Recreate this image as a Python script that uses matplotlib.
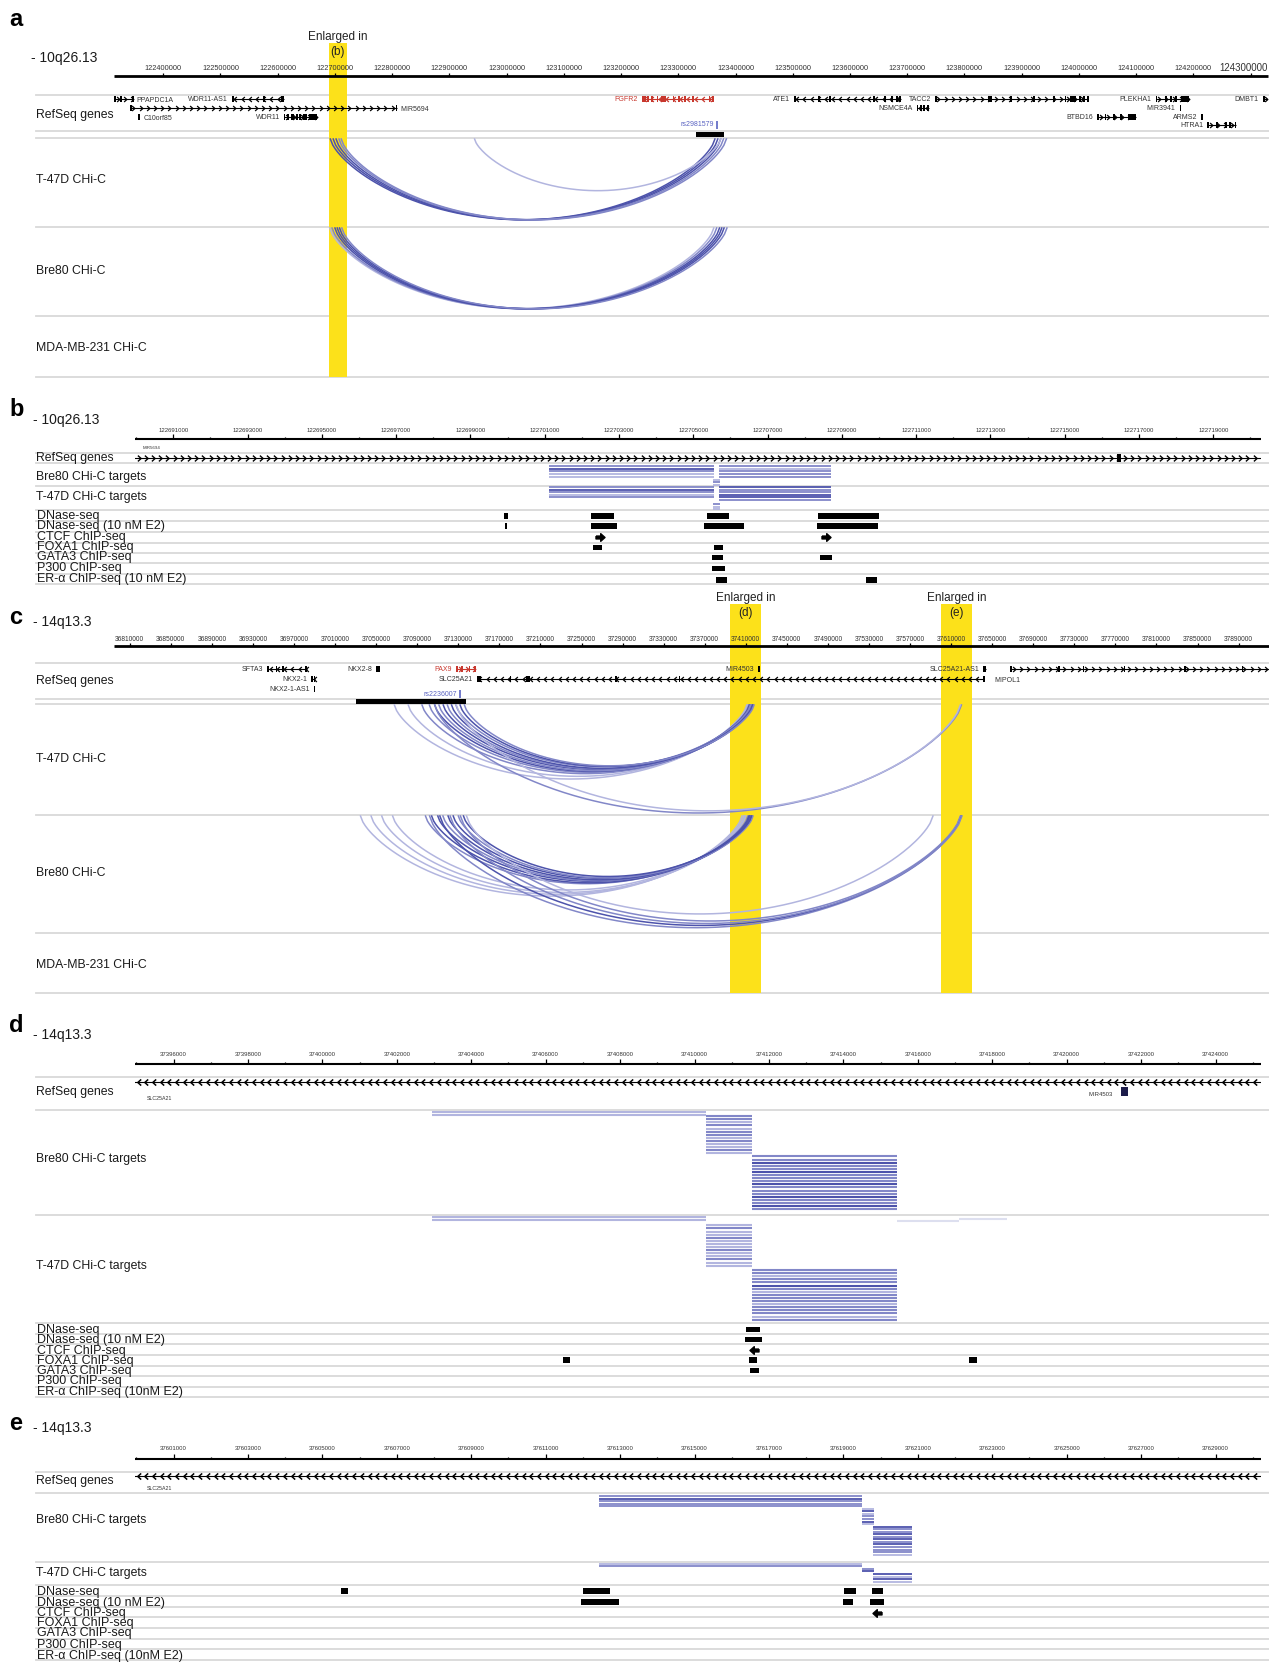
import numpy as np
import matplotlib
matplotlib.use("Agg")
import matplotlib.pyplot as plt
from matplotlib.lines import Line2D
from matplotlib.patches import Rectangle

plt.rcParams['font.family'] = ['Liberation Sans', 'DejaVu Sans']
NARROW = ['Liberation Sans Narrow', 'Liberation Sans', 'DejaVu Sans']

W, H = 1269, 1662
fig = plt.figure(figsize=(W / 100, H / 100), dpi=100)

YELLOW = '#fce11a'
SEP = '#d9d9d9'
BLUES = {0: '#dddfef', 1: '#b2b5df', 2: '#8287c8', 3: '#4d53ab'}
RED = '#c8372d'
SNPBLUE = '#5a63c2'

# ---------------- data ----------------
# panel a : 10q26.13 overview
A_VIEW = (122313900, 124330500)
A_TICKS = list(range(122400000, 124300001, 100000))
# name, start, end, strand, row, label side, exons, colour
A_GENES = [
    ('PPAPDC1A', 122314500, 122346500, '+', 0, 'R',
     [(122314500, 122316500), (122325000, 122326500), (122345000, 122346500)], 'k'),
    ('WDR11-AS1', 122519700, 122610300, '-', 0, 'L',
     [(122519700, 122522500), (122575000, 122576500), (122606000, 122610300)], 'k'),
    ('MIR5694', 122341500, 122807700, '+', 1, 'R',
     [(122341500, 122343000), (122806000, 122807700)], 'k'),
    ('C10orf85', 122356000, 122358000, '', 2, 'R', [(122356000, 122358000)], 'k'),
    ('WDR11', 122610300, 122669400, '+', 2, 'L',
     [(122610300, 122613000), (122617000, 122620000), (122624000, 122628000),
      (122632000, 122634000), (122638000, 122641000), (122645000, 122652000),
      (122655000, 122669400)], 'k'),
    ('FGFR2', 123236000, 123360500, '-', 0, 'L',
     [(123236000, 123243000), (123246000, 123249000), (123252000, 123255000),
      (123262000, 123264500), (123270000, 123278000), (123290000, 123292000),
      (123300000, 123302000), (123310000, 123311500), (123324000, 123325500),
      (123353000, 123355000), (123358500, 123360500)], RED),
    ('ATE1', 123501400, 123690000, '-', 0, 'L',
     [(123501400, 123505000), (123545000, 123546500), (123563000, 123564500),
      (123640000, 123643000), (123660000, 123662000), (123672000, 123674000),
      (123680000, 123682000), (123685000, 123690000)], 'k'),
    ('NSMCE4A', 123716300, 123737700, '-', 1, 'L',
     [(123716300, 123719000), (123722000, 123726000), (123728000, 123731000),
      (123734000, 123737700)], 'k'),
    ('TACC2', 123748400, 124016700, '+', 0, 'L',
     [(123748400, 123751000), (123841000, 123848000), (123880000, 123881500),
      (123920000, 123921500), (123955000, 123956500), (123975000, 123977000),
      (123985000, 123995000), (124000000, 124003000), (124008000, 124010000),
      (124014000, 124016700)], 'k'),
    ('BTBD16', 124031600, 124099200, '+', 2, 'L',
     [(124031600, 124035000), (124045000, 124046500), (124060000, 124061500),
      (124072000, 124073500), (124085000, 124099200)], 'k'),
    ('PLEKHA1', 124134100, 124191700, '+', 0, 'L',
     [(124134100, 124136000), (124150000, 124151500), (124160000, 124162000),
      (124168000, 124172000), (124178000, 124191700)], 'k'),
    ('MIR3941', 124176000, 124177500, '', 1, 'L', [(124176000, 124177500)], 'k'),
    ('ARMS2', 124214000, 124216700, '', 2, 'L', [(124214000, 124216700)], 'k'),
    ('HTRA1', 124223800, 124275000, '+', 3, 'L',
     [(124223800, 124226000), (124240000, 124242000), (124255000, 124258000),
      (124262000, 124264000), (124272000, 124275000)], 'k'),
    ('DMBT1', 124321300, 124330500, '+', 0, 'L', [(124321300, 124323000)], 'k'),
]
A_SNP = ('rs2981579', 123367600)
A_SNP_BLOCK = (123330600, 123379700)
# start, end, shade
A_T47D_ARCS = [
    (122692000, 123364000, 3), (122697000, 123369000, 3), (122702000, 123374000, 3),
    (122707000, 123379000, 2), (122711000, 123384000, 2), (122944000, 123374000, 1),
]
A_BRE80_ARCS = [
    (122691000, 123362000, 1), (122695000, 123367000, 2), (122700000, 123372000, 3),
    (122704000, 123376000, 3), (122708000, 123380000, 3), (122712000, 123385000, 2),
]

# panel b : enlarged FGFR2 enhancer region
B_VIEW = (122689970, 122720283)
B_MAJOR = list(range(122691000, 122719001, 2000))
B_MINOR = list(range(122690000, 122720001, 2000))
B_GENE = ('MIR5694', 122689970, 122720283, '+', [(122716400, 122716520)])
# start, end, first row, shades per row
B_BRE80 = [
    (122701110, 122705550, 0, [2, 3, 2, 1, 1]),
    (122705692, 122708715, 0, [2, 1, 2, 2, 2]),
    (122705540, 122705725, 5, [1, 2, 1]),
]
B_T47D = [
    (122701110, 122705550, 0, [2, 3, 2, 1, 2]),
    (122705692, 122708715, 0, [3, 2, 2, 3, 3, 2]),
    (122705540, 122705725, 6.5, [2, 1, 1]),
]
B_DNASE = [(122699912, 122700022), (122702242, 122702868), (122705374, 122705956),
           (122708363, 122710000)]
B_DNASE_E2 = [(122699923, 122699989), (122702242, 122702956), (122705297, 122706374),
              (122708341, 122709978)]
B_CTCF = [(122702484, '+'), (122708572, '+')]
B_FOXA1 = [(122702297, 122702539), (122705560, 122705802)]
B_GATA3 = [(122705505, 122705802), (122708418, 122708737)]
B_P300 = [(122705505, 122705857)]
B_ER = [(122705615, 122705912), (122709660, 122709956)]

# panel c : 14q13.3 overview
C_VIEW = (36794600, 37919600)
C_TICKS = list(range(36810000, 37890001, 40000))
C_GENES = [
    ('SFTA3', 36943900, 36982500, '-', 0, 'L',
     [(36943900, 36946000), (36952000, 36953000), (36958000, 36959000),
      (36981000, 36982500)], 'k'),
    ('NKX2-1', 36986500, 36990400, '-', 1, 'L', [(36986500, 36987800), (36989000, 36990400)], 'k'),
    ('NKX2-1-AS1', 36989000, 36990600, '', 2, 'L', [(36989000, 36990600)], 'k'),
    ('NKX2-8', 37049800, 37052800, '-', 0, 'L', [(37049800, 37050600), (37051800, 37052800)], 'k'),
    ('PAX9', 37128000, 37146700, '+', 0, 'L',
     [(37128000, 37129500), (37133000, 37134000), (37140000, 37141200),
      (37145000, 37146700)], RED),
    ('SLC25A21', 37147900, 37642300, '-', 1, 'L',
     [(37147900, 37152000), (37180000, 37181000), (37196000, 37199900),
      (37283000, 37284500), (37344500, 37346000), (37641300, 37642300)], 'k'),
    ('MIR4503', 37422000, 37423600, '', 0, 'L', [(37422000, 37423600)], 'k'),
    ('SLC25A21-AS1', 37641200, 37644200, '', 0, 'L', [(37641200, 37644200)], 'k'),
    ('', 37667700, 37919600, '+', 0, 'L',
     [(37667700, 37669000), (37714000, 37715000), (37738000, 37739000),
      (37778000, 37779000), (37837000, 37838500), (37893000, 37894000)], 'k'),
]
C_EXTRA_LABEL = ('MIPOL1', 37652000, 1)
C_SNP = ('rs2236007', 37131600)
C_SNP_BLOCK = (37030200, 37137600)
C_T47D_ARCS = [
    (37067700, 37411000, 1), (37081200, 37412000, 1), (37094600, 37413000, 2),
    (37101800, 37414000, 2), (37107000, 37415000, 3), (37111100, 37416000, 2),
    (37115300, 37413500, 3), (37119300, 37415500, 2), (37123400, 37417000, 3),
    (37127600, 37414500, 2), (37131700, 37416500, 3), (37135900, 37418000, 2),
    (37107000, 37620000, 2), (37128000, 37619000, 1),
]
C_BRE80_ARCS = [
    (37034700, 37406300, 1), (37045000, 37408000, 1), (37055400, 37410000, 1),
    (37066000, 37409000, 1), (37098000, 37412000, 2), (37104000, 37414000, 3),
    (37110000, 37413000, 3), (37115000, 37415000, 2), (37120000, 37416000, 3),
    (37125000, 37414000, 3), (37130000, 37417000, 2), (37135000, 37415500, 3),
    (37102000, 37620000, 2), (37112000, 37619500, 3), (37122000, 37620500, 2),
    (37132000, 37619000, 2), (37138000, 37592300, 1),
]

# panel d : SLC25A21 intronic region (d)
D_VIEW = (37394957, 37425210)
D_MAJOR = list(range(37396000, 37424001, 2000))
D_MINOR = list(range(37395000, 37425001, 2000))
D_MIR = ('MIR4503', 37421450, 37421650)
D_BRE80 = [
    (37402940, 37410295, 0, [1, 1]),
    (37410295, 37411533, 1.5, [2, 2, 1, 2, 1, 2, 2, 1, 2, 1, 1, 2, 1]),
    (37411533, 37415430, 14.5, [2, 2, 3, 2, 2, 3, 2, 2, 2, 3, 2, 2, 2, 3, 2, 2, 3, 2]),
]
D_T47D = [
    (37402940, 37410295, 0, [1, 1]),
    (37415430, 37417100, 1.3, [0]),
    (37417100, 37418400, 0.6, [0]),
    (37410295, 37411533, 2.7, [1, 2, 1, 1, 2, 1, 1, 1, 2, 1, 1, 2, 1, 1]),
    (37411533, 37415430, 17.1, [2, 2, 1, 2, 2, 3, 2, 1, 2, 2, 2, 1, 2, 2, 2, 1, 2]),
]
D_DNASE = [(37411380, 37411760)]
D_DNASE_E2 = [(37411355, 37411810)]
D_CTCF = [(37411600, '-')]
D_FOXA1 = [(37406466, 37406654), (37411450, 37411680), (37417370, 37417600)]
D_GATA3 = [(37411480, 37411730)]

# panel e : SLC25A21 intronic region (e)
E_VIEW = (37599957, 37630210)
E_MAJOR = list(range(37601000, 37629001, 2000))
E_MINOR = list(range(37600000, 37630001, 2000))
E_BRE80 = [
    (37612433, 37619495, 0, [2, 3, 2, 2, 2]),
    (37619495, 37619820, 5, [1, 3, 1, 2, 2, 3, 1]),
    (37619803, 37620840, 12, [3, 2, 2, 3, 2, 3, 2, 3, 2, 2, 2, 1]),
]
E_T47D = [
    (37612433, 37619495, 0, [1, 2]),
    (37619495, 37619820, 2, [2, 3]),
    (37619803, 37620840, 4, [3, 1, 3, 1]),
]
E_DNASE = [(37605500, 37605690), (37612000, 37612730), (37619020, 37619350),
           (37619780, 37620060)]
E_DNASE_E2 = [(37611950, 37612970), (37619000, 37619260), (37619725, 37620100)]
E_CTCF = [(37619900, '-')]

SMALL_TRACKS_B = ['DNase-seq', 'DNase-seq (10 nM E2)', 'CTCF ChIP-seq', 'FOXA1 ChIP-seq',
                  'GATA3 ChIP-seq', 'P300 ChIP-seq', 'ER-\u03b1 ChIP-seq (10 nM E2)']
SMALL_TRACKS_DE = SMALL_TRACKS_B[:-1] + ['ER-\u03b1 ChIP-seq (10nM E2)']

# ---------------- helpers ----------------
CHEV_R = [(-0.55, 1.0), (0.55, 0.0), (-0.55, -1.0)]
CHEV_L = [(0.55, 1.0), (-0.55, 0.0), (0.55, -1.0)]
ARROW_R = [(-1, 0.32), (0.05, 0.32), (0.05, 0.85), (1, 0), (0.05, -0.85),
           (0.05, -0.32), (-1, -0.32), (-1, 0.32)]
ARROW_L = [(-x, y) for x, y in ARROW_R]


def panel_axes(x0, x1, y0, y1, view):
    ax = fig.add_axes([x0 / W, 1 - y1 / H, (x1 - x0) / W, (y1 - y0) / H])
    ax.set_xlim(*view)
    ax.set_ylim(y1, y0)
    ax.axis('off')
    ax.patch.set_visible(False)
    return ax, (x1 - x0) / (view[1] - view[0])


def sep(y, x0=36, x1=W, lw=1.3, color=SEP):
    fig.add_artist(Line2D([x0 / W, x1 / W], [1 - y / H] * 2, transform=fig.transFigure,
                          color=color, lw=lw, zorder=-1))


def ftext(x, y, s, **kw):
    kw.setdefault('va', 'center')
    kw.setdefault('color', '#1a1a1a')
    fig.text(x / W, 1 - y / H, s, **kw)


def ruler(ax, view, y_axis, y_lab, majors, minors, fs, lw, mlen, nlen, last_fs=None):
    ax.plot(view, [y_axis, y_axis], color='k', lw=lw, solid_capstyle='butt', clip_on=False)
    ax.vlines(majors, y_axis - mlen, y_axis, color='k', lw=0.9)
    if minors:
        ax.vlines(minors, y_axis - nlen, y_axis, color='k', lw=0.9)
    for t in majors:
        if last_fs and t == majors[-1]:
            # the closing label is larger and pinned to the right end of the ruler
            ax.text(view[1], y_lab - 1, str(t), fontsize=last_fs, ha='right', va='center',
                    color='#333333', clip_on=False)
        else:
            ax.text(t, y_lab, str(t), fontsize=fs, ha='center', va='center',
                    color='#333333', clip_on=False)


def chevrons(ax, ppb, s, e, y, strand, step_px, ms, color='k', mew=0.9):
    step = step_px / ppb
    xs = np.arange(s + step / 2, e, step)
    ax.plot(xs, np.full(len(xs), y), ls='none', marker=CHEV_R if strand == '+' else CHEV_L,
            ms=ms, mfc='none', mec=color, mew=mew)


def gene(ax, ppb, g, rows, fs, step_px=7.2, ms=3.6, h=5.5):
    name, s, e, strand, row, side, exons, color = g
    y = rows[row]
    if e - s > 2 / ppb:
        ax.plot([s, e], [y, y], color=color, lw=0.8, solid_capstyle='butt')
    if strand:
        chevrons(ax, ppb, s, e, y, strand, step_px, ms, color)
    for xs_, xe_ in exons:
        w = max(xe_ - xs_, 1.8 / ppb)
        ax.add_patch(Rectangle((xs_, y - h / 2), w, h, color=color, lw=0, zorder=3))
    if name:
        lc = color if color != 'k' else '#333333'
        if side == 'L':
            ax.text(s - 4 / ppb, y + 0.5, name, fontsize=fs, ha='right', va='center', color=lc)
        else:
            ax.text(e + 4 / ppb, y + 1.5, name, fontsize=fs, ha='left', va='center', color=lc)


def arcs(ax, ppb, data, top, maxdepth):
    u = np.linspace(-1, 1, 160)
    for s, e, shade in data:
        d = min(0.21 * (e - s) * ppb, maxdepth)
        xs = (s + e) / 2 + u * (e - s) / 2
        ys = top + d * (1 - u ** 2) ** 0.7
        ax.plot(xs, ys, color=BLUES[shade], lw=1.1, zorder=2)


def targets(ax, groups, top, pitch, lw):
    for s, e, row0, shades in groups:
        for i, sh in enumerate(shades):
            ax.hlines(top + (row0 + i) * pitch, s, e, color=BLUES[sh], lw=lw)


def boxes(ax, ppb, feats, y, h=5.5):
    for s, e in feats:
        w = max(e - s, 2 / ppb)
        ax.add_patch(Rectangle((s, y - h / 2), w, h, color='k', lw=0))


def ctcf(ax, feats, y):
    for pos, strand in feats:
        ax.plot([pos], [y], ls='none', marker=ARROW_R if strand == '+' else ARROW_L,
                ms=6.5, color='k')


def yellow(ax, span, y0, y1, lab, y_lab):
    ax.fill_between(span, y0, y1, color=YELLOW, lw=0, zorder=0)
    mid = (span[0] + span[1]) / 2
    ax.text(mid, y_lab, 'Enlarged in', fontsize=8.5, ha='center', va='center', color='#222')
    ax.text(mid, y_lab + 15, lab, fontsize=8.5, ha='center', va='center', color='#222')


def small_tracks(labels, label_ys, seps):
    for lab, y in zip(labels, label_ys):
        ftext(37, y, lab, fontsize=9.0, family=NARROW)
    for y in seps:
        sep(y)


# ---------------- panel a ----------------
ftext(9, 19, 'a', fontsize=17, fontweight='bold', color='k')
ftext(31, 58, '- 10q26.13', fontsize=10)
ax, ppb = panel_axes(114, 1268, 0, 390, A_VIEW)
yellow(ax, B_VIEW, 43, 377, '(b)', 37)
ruler(ax, A_VIEW, 76, 69, A_TICKS, None, 5.3, 2.0, 3, 0, last_fs=7.0)
for y in (95, 131, 138, 227, 316, 377):
    sep(y)
for lab, y in (('RefSeq genes', 115), ('T-47D CHi-C', 180), ('Bre80 CHi-C', 271),
               ('MDA-MB-231 CHi-C', 348)):
    ftext(36, y, lab, fontsize=8.8)
a_rows = [99, 108, 117, 125]
for g in A_GENES:
    gene(ax, ppb, g, a_rows, 5.0)
ax.vlines(A_SNP[1], 121, 129, color=SNPBLUE, lw=1.2)
ax.text(A_SNP[1] - 3 / ppb, 125, A_SNP[0], fontsize=5.0, ha='right', va='center', color=SNPBLUE)
ax.add_patch(Rectangle((A_SNP_BLOCK[0], 131.5), A_SNP_BLOCK[1] - A_SNP_BLOCK[0], 5, color='k', lw=0))
arcs(ax, ppb, A_T47D_ARCS, 139, 86)
arcs(ax, ppb, A_BRE80_ARCS, 228, 86)

# ---------------- panel b ----------------
ftext(9, 410, 'b', fontsize=17, fontweight='bold', color='k')
ftext(33, 420, '- 10q26.13', fontsize=10)
ax, ppb = panel_axes(135, 1261, 395, 590, B_VIEW)
ruler(ax, B_VIEW, 439, 431, B_MAJOR, B_MINOR, 4.3, 1.5, 5, 2.2)
for y in (453, 463, 486):
    sep(y)
ftext(36, 458, 'RefSeq genes', fontsize=8.8)
ftext(36, 477, 'Bre80 CHi-C targets', fontsize=8.8)
ftext(36, 497, 'T-47D CHi-C targets', fontsize=8.8)
name, s, e, strand, exons = B_GENE
ax.plot([s, e], [458, 458], color='k', lw=0.8)
chevrons(ax, ppb, s, e, 458, strand, 7.2, 4.2, mew=1.0)
for xs_, xe_ in exons:
    ax.add_patch(Rectangle((xs_, 454), max(xe_ - xs_, 1.8 / ppb), 8, color='k', lw=0))
ax.text(s + 8 / ppb, 448, name, fontsize=3.2, ha='left', va='center', color='#333')
targets(ax, B_BRE80, 466, 2.7, 1.3)
targets(ax, B_T47D, 487, 2.6, 1.3)
small_tracks(SMALL_TRACKS_B, [516, 526, 537, 547, 557, 568, 579],
             [510, 521, 532, 543, 553, 563, 574, 584])
boxes(ax, ppb, B_DNASE, 516)
boxes(ax, ppb, B_DNASE_E2, 526)
ctcf(ax, B_CTCF, 537)
boxes(ax, ppb, B_FOXA1, 547.5)
boxes(ax, ppb, B_GATA3, 557.5)
boxes(ax, ppb, B_P300, 568.5)
boxes(ax, ppb, B_ER, 580)

# ---------------- panel c ----------------
ftext(9, 617, 'c', fontsize=17, fontweight='bold', color='k')
ftext(33, 622, '- 14q13.3', fontsize=10)
ax, ppb = panel_axes(114, 1269, 590, 1000, C_VIEW)
yellow(ax, D_VIEW, 604, 993, '(d)', 598)
yellow(ax, E_VIEW, 604, 993, '(e)', 598)
ruler(ax, C_VIEW, 646, 639, C_TICKS, None, 4.8, 2.0, 3, 0)
for y in (663, 699, 704, 815, 933, 993):
    sep(y)
for lab, y in (('RefSeq genes', 681), ('T-47D CHi-C', 759), ('Bre80 CHi-C', 873),
               ('MDA-MB-231 CHi-C', 965)):
    ftext(36, y, lab, fontsize=8.8)
c_rows = [669, 679, 689]
for g in C_GENES:
    gene(ax, ppb, g, c_rows, 5.0)
ax.text(C_EXTRA_LABEL[1], c_rows[C_EXTRA_LABEL[2]] + 1, C_EXTRA_LABEL[0], fontsize=5.0,
        ha='left', va='center', color='#333')
ax.vlines(C_SNP[1], 690, 698, color=SNPBLUE, lw=1.2)
ax.text(C_SNP[1] - 3 / ppb, 694, C_SNP[0], fontsize=5.0, ha='right', va='center', color=SNPBLUE)
ax.add_patch(Rectangle((C_SNP_BLOCK[0], 699), C_SNP_BLOCK[1] - C_SNP_BLOCK[0], 5, color='k', lw=0))
arcs(ax, ppb, C_T47D_ARCS, 705, 108)
arcs(ax, ppb, C_BRE80_ARCS, 816, 114)

# ---------------- panel d ----------------
ftext(9, 1026, 'd', fontsize=17, fontweight='bold', color='k')
ftext(33, 1035, '- 14q13.3', fontsize=10)
ax, ppb = panel_axes(134.7, 1260.6, 1005, 1405, D_VIEW)
ruler(ax, D_VIEW, 1064, 1055, D_MAJOR, D_MINOR, 4.3, 1.5, 5, 2.2)
for y in (1077, 1110, 1215):
    sep(y)
ftext(36, 1092, 'RefSeq genes', fontsize=8.8)
ftext(36, 1159, 'Bre80 CHi-C targets', fontsize=8.8)
ftext(36, 1266, 'T-47D CHi-C targets', fontsize=8.8)
ax.plot(D_VIEW, [1082, 1082], color='k', lw=0.8)
chevrons(ax, ppb, D_VIEW[0], D_VIEW[1], 1082, '-', 7.7, 4.4, mew=1.1)
ax.text(D_VIEW[0] + 12 / ppb, 1098, 'SLC25A21', fontsize=3.8, ha='left', va='center', color='#333')
ax.add_patch(Rectangle((D_MIR[1], 1087), D_MIR[2] - D_MIR[1], 9, color='#1c1c4a', lw=0))
ax.text(D_MIR[1] - 8 / ppb, 1095, D_MIR[0], fontsize=4.3, ha='right', va='center', color='#333')
targets(ax, D_BRE80, 1111.5, 3.1, 1.5)
targets(ax, D_T47D, 1217, 3.1, 1.5)
small_tracks(SMALL_TRACKS_DE, [1330, 1340, 1351, 1361, 1371, 1381, 1392],
             [1323, 1334, 1344, 1355, 1366, 1376, 1387, 1397])
boxes(ax, ppb, D_DNASE, 1329.5)
boxes(ax, ppb, D_DNASE_E2, 1339.5)
ctcf(ax, D_CTCF, 1350)
boxes(ax, ppb, D_FOXA1, 1360)
boxes(ax, ppb, D_GATA3, 1370.5)

# ---------------- panel e ----------------
ftext(9, 1423, 'e', fontsize=17, fontweight='bold', color='k')
ftext(33, 1428, '- 14q13.3', fontsize=10)
ax, ppb = panel_axes(134.7, 1260.6, 1408, 1662, E_VIEW)
ruler(ax, E_VIEW, 1459, 1449, E_MAJOR, E_MINOR, 4.3, 1.5, 5, 2.2)
for y in (1472, 1493, 1562):
    sep(y)
ftext(36, 1481, 'RefSeq genes', fontsize=8.8)
ftext(36, 1520, 'Bre80 CHi-C targets', fontsize=8.8)
ftext(36, 1573, 'T-47D CHi-C targets', fontsize=8.8)
ax.plot(E_VIEW, [1476, 1476], color='k', lw=0.8)
chevrons(ax, ppb, E_VIEW[0], E_VIEW[1], 1476, '-', 7.7, 4.4, mew=1.1)
ax.text(E_VIEW[0] + 12 / ppb, 1488, 'SLC25A21', fontsize=3.8, ha='left', va='center', color='#333')
targets(ax, E_BRE80, 1496, 2.55, 1.3)
targets(ax, E_T47D, 1563.5, 2.6, 1.3)
small_tracks(SMALL_TRACKS_DE, [1592, 1603, 1613, 1623, 1633, 1645, 1656],
             [1585, 1596, 1607, 1617, 1628, 1639, 1649, 1660])
boxes(ax, ppb, E_DNASE, 1591)
boxes(ax, ppb, E_DNASE_E2, 1602)
ctcf(ax, E_CTCF, 1612.5)

fig.savefig('out.png', dpi=100)
